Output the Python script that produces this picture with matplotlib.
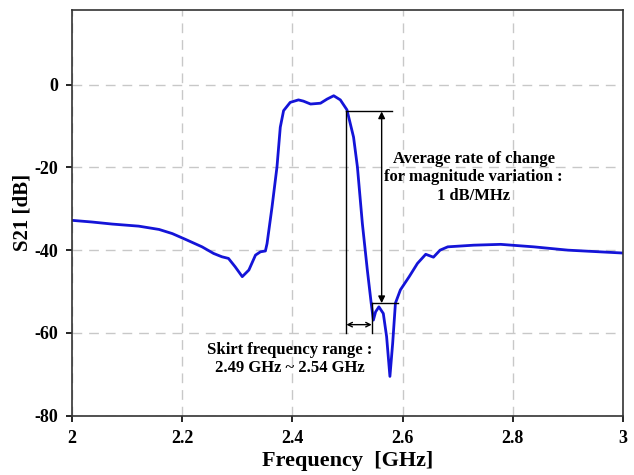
import matplotlib
matplotlib.use("Agg")
from matplotlib import pyplot as plt

# S21 curve
freq = [2.0, 2.036, 2.073, 2.121, 2.158, 2.182, 2.206, 2.236, 2.257, 2.272, 2.284, 2.296,
        2.309, 2.321, 2.333, 2.342, 2.351, 2.354, 2.363, 2.372, 2.378, 2.384, 2.396,
        2.411, 2.42, 2.433, 2.451, 2.463, 2.475, 2.487, 2.499, 2.511, 2.518, 2.527,
        2.536, 2.543, 2.547, 2.551, 2.557, 2.565, 2.571, 2.577, 2.582, 2.587, 2.596,
        2.612, 2.627, 2.642, 2.656, 2.668, 2.682, 2.729, 2.778, 2.838, 2.9, 3.0]
s21 = [-32.8, -33.2, -33.7, -34.2, -35.0, -36.0, -37.4, -39.2, -40.8, -41.6, -42.0, -44.0,
       -46.4, -44.8, -41.2, -40.4, -40.2, -38.4, -29.6, -19.9, -10.3, -6.3, -4.3,
       -3.7, -4.0, -4.7, -4.5, -3.5, -2.7, -3.7, -6.1, -12.7, -19.9, -33.6,
       -44.8, -52.8, -56.9, -54.9, -53.7, -55.3, -60.9, -70.5, -62.5, -52.8, -49.6,
       -46.4, -43.2, -41.0, -41.7, -40.0, -39.2, -38.8, -38.6, -39.2, -40.0, -40.7]

xticks = [2, 2.2, 2.4, 2.6, 2.8, 3]
xticklabels = ['2', '2.2', '2.4', '2.6', '2.8', '3']
yticks = [0, -20, -40, -60, -80]

# annotation marks
f_lo, f_hi = 2.498, 2.544
top_db, bot_db = -6.5, -52.8
arrow_f = 2.562
base_db = -60

plt.rcParams['font.family'] = ['Liberation Serif', 'DejaVu Serif']
plt.rcParams['font.weight'] = 'bold'
plt.rcParams['axes.unicode_minus'] = False

fig = plt.figure(figsize=(6.34, 4.75), dpi=100)
ax = fig.add_axes([0.1136, 0.1248, 0.869, 0.854])

ax.plot(freq, s21, color='#1414d8', lw=2.0, solid_joinstyle='round')

ax.set_xlim(2, 3)
ax.set_ylim(-80, 18)
ax.set_xticks(xticks)
ax.set_xticklabels(xticklabels)
ax.set_yticks(yticks)
ax.tick_params(direction='out', length=4, width=1.2, labelsize=13, pad=6)
for lab in ax.get_xticklabels() + ax.get_yticklabels():
    lab.set_fontweight('bold')
ax.grid(True, color='#c8c8c8', linestyle=(0, (7, 5)), lw=1.0)
for s in ax.spines.values():
    s.set_linewidth(1.2)
    s.set_color('#333333')

ax.set_xlabel('Frequency  [GHz]', fontsize=16, fontweight='bold', labelpad=3)
ax.set_ylabel('S21 [dB]', fontsize=15, fontweight='bold', labelpad=1)

# construction lines
ax.plot([f_lo, f_lo], [base_db, top_db], color='k', lw=1)
ax.plot([f_lo, 2.58], [top_db, top_db], color='k', lw=1)
ax.plot([f_hi, f_hi], [base_db, bot_db], color='k', lw=1)
ax.plot([f_hi, 2.591], [bot_db, bot_db], color='k', lw=1)
ax.annotate('', xy=(arrow_f, top_db), xytext=(arrow_f, bot_db),
            arrowprops=dict(arrowstyle='<|-|>', color='k', lw=1, mutation_scale=10,
                            shrinkA=0, shrinkB=0))
ax.annotate('', xy=(f_lo, -58), xytext=(f_hi, -58),
            arrowprops=dict(arrowstyle='<->', color='k', lw=1, mutation_scale=8,
                            shrinkA=0, shrinkB=0))

ax.text(2.729, -22.4, 'Average rate of change\nfor magnitude variation :\n1 dB/MHz',
        ha='center', va='center', fontsize=12, fontweight='bold', linespacing=1.2)
ax.text(2.395, -66.3, 'Skirt frequency range :\n2.49 GHz ~ 2.54 GHz',
        ha='center', va='center', fontsize=12, fontweight='bold', linespacing=1.15)

fig.savefig('out.png', dpi=100)
